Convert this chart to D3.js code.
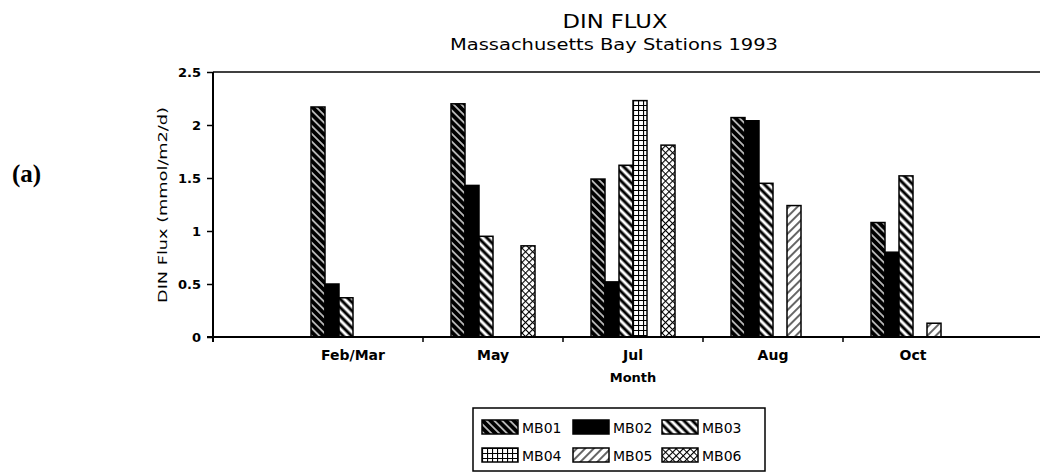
<!DOCTYPE html>
<html>
<head>
<meta charset="utf-8">
<script src="https://cdn.jsdelivr.net/npm/d3@7"></script>
<style>
  body { margin: 0; background: #fff; }
  svg { display: block; }
  text { font-family: "DejaVu Sans", sans-serif; fill: #000; }
</style>
</head>
<body>
<svg></svg>
<script>
var months = ["Feb/Mar", "May", "Jul", "Aug", "Oct"];
var stations = ["MB01", "MB02", "MB03", "MB04", "MB05", "MB06"];

var mb01 = [2.17, 2.20, 1.49, 2.07, 1.08];
var mb02 = [0.50, 1.43, 0.52, 2.04, 0.80];
var mb03 = [0.37, 0.95, 1.62, 1.45, 1.52];
var mb04 = [0, 0, 2.23, 0, 0];
var mb05 = [0, 0, 0, 1.24, 0.13];
var mb06 = [0, 0.86, 1.81, 0, 0];

var yTicks = [0, 0.5, 1, 1.5, 2, 2.5];

var series = [mb01, mb02, mb03, mb04, mb05, mb06];

var screen = {width: 1042, height: 472};

var svg = d3.select("svg")
    .attr("width", screen.width)
    .attr("height", screen.height);

// hatch patterns
var defs = svg.append("defs");

var addLines = function(id, size, angle, lineW, bg, fg)
{
    var p = defs.append("pattern")
        .attr("id", id)
        .attr("patternUnits", "userSpaceOnUse")
        .attr("width", size)
        .attr("height", size)
        .attr("patternTransform", "rotate(" + angle + ")");
    p.append("rect").attr("width", size).attr("height", size).attr("fill", bg);
    p.append("line")
        .attr("x1", size / 2).attr("y1", 0)
        .attr("x2", size / 2).attr("y2", size)
        .attr("stroke", fg)
        .attr("stroke-width", lineW);
}

addLines("p1", 5.5, -45, 1.3, "#000", "#fff");
addLines("p3", 6, -45, 3, "#fff", "#000");
addLines("p5", 6, 45, 1.2, "#fff", "#000");

var grid = defs.append("pattern")
    .attr("id", "p4")
    .attr("patternUnits", "userSpaceOnUse")
    .attr("width", 5).attr("height", 5);
grid.append("rect").attr("width", 5).attr("height", 5).attr("fill", "#fff");
grid.append("path").attr("d", "M0,0.5H5M0.5,0V5").attr("stroke", "#000").attr("stroke-width", 1.2);

var cross = defs.append("pattern")
    .attr("id", "p6")
    .attr("patternUnits", "userSpaceOnUse")
    .attr("width", 5).attr("height", 5)
    .attr("patternTransform", "rotate(45)");
cross.append("rect").attr("width", 5).attr("height", 5).attr("fill", "#fff");
cross.append("path").attr("d", "M0,0.5H5M0.5,0V5").attr("stroke", "#000").attr("stroke-width", 1.2);

var fills = ["url(#p1)", "#000", "url(#p3)", "url(#p4)", "url(#p5)", "url(#p6)"];

// scales
var xScale = d3.scaleBand().domain(months).range([283, 983]);
var xInner = d3.scaleBand().domain(stations).range([28, 112]);
var yScale = d3.scaleLinear().domain([0, 2.5]).range([337, 72]);

// bars
months.forEach(function(m, mi)
{
    var vals = stations.map(function(s, si) { return {s: s, i: si, v: series[si][mi]}; })
        .filter(function(d) { return d.v > 0; });
    svg.append("g")
        .attr("transform", "translate(" + xScale(m) + ",0)")
        .selectAll("rect")
        .data(vals)
        .enter()
        .append("rect")
        .attr("x", function(d) { return xInner(d.s); })
        .attr("y", function(d) { return yScale(d.v); })
        .attr("width", xInner.bandwidth())
        .attr("height", function(d) { return yScale(0) - yScale(d.v); })
        .attr("fill", function(d) { return fills[d.i]; })
        .attr("stroke", "#000")
        .attr("stroke-width", 1.5);
});

// y axis
var yAxis = svg.append("g")
    .attr("transform", "translate(213,0)")
    .call(d3.axisLeft(yScale).tickValues(yTicks).tickSize(6).tickFormat(function(d) { return d; }));
yAxis.select(".domain").remove();
yAxis.selectAll("line").attr("stroke-width", 1.5);
yAxis.selectAll("text")
    .attr("x", -12)
    .style("font-family", "DejaVu Sans")
    .style("font-size", "13px")
    .style("font-weight", "bold");

svg.append("line")
    .attr("x1", 213).attr("x2", 213)
    .attr("y1", yScale(2.5)).attr("y2", yScale(0) + 5)
    .attr("stroke", "#000").attr("stroke-width", 2);

// top frame line and x axis line
svg.append("line")
    .attr("x1", 213).attr("x2", 1040)
    .attr("y1", yScale(2.5)).attr("y2", yScale(2.5))
    .attr("stroke", "#000").attr("stroke-width", 1.5);

svg.append("line")
    .attr("x1", 207).attr("x2", 1040)
    .attr("y1", yScale(0)).attr("y2", yScale(0))
    .attr("stroke", "#000").attr("stroke-width", 2);

// x ticks at group boundaries
svg.selectAll(".xtick")
    .data(months.slice(1))
    .enter()
    .append("line")
    .attr("class", "xtick")
    .attr("x1", function(m) { return xScale(m); })
    .attr("x2", function(m) { return xScale(m); })
    .attr("y1", yScale(0))
    .attr("y2", yScale(0) + 5)
    .attr("stroke", "#000").attr("stroke-width", 1.5);

svg.selectAll(".xlab")
    .data(months)
    .enter()
    .append("text")
    .attr("class", "xlab")
    .attr("x", function(m) { return xScale(m) + xScale.bandwidth() / 2; })
    .attr("y", 360)
    .attr("text-anchor", "middle")
    .style("font-size", "14px")
    .style("font-weight", "bold")
    .text(function(m) { return m; });

svg.append("text")
    .attr("x", xScale("Jul") + xScale.bandwidth() / 2)
    .attr("y", 382)
    .attr("text-anchor", "middle")
    .style("font-size", "13px")
    .style("font-weight", "bold")
    .text("Month");

svg.append("text")
    .attr("transform", "translate(167,205) rotate(-90)")
    .attr("text-anchor", "middle")
    .attr("textLength", 196)
    .attr("lengthAdjust", "spacingAndGlyphs")
    .style("font-size", "13px")
    .text("DIN Flux (mmol/m2/d)");

// titles
svg.append("text")
    .attr("x", 615).attr("y", 28)
    .attr("text-anchor", "middle")
    .attr("textLength", 105)
    .attr("lengthAdjust", "spacingAndGlyphs")
    .style("font-size", "20px")
    .text("DIN FLUX");

svg.append("text")
    .attr("x", 614).attr("y", 50)
    .attr("text-anchor", "middle")
    .attr("textLength", 328)
    .attr("lengthAdjust", "spacingAndGlyphs")
    .style("font-size", "16px")
    .text("Massachusetts Bay Stations 1993");

svg.append("text")
    .attr("x", 12).attr("y", 182)
    .style("font-family", "Liberation Serif")
    .style("font-size", "25px")
    .style("font-weight", "bold")
    .text("(a)");

// legend
var legend = svg.append("g");
legend.append("rect")
    .attr("x", 473).attr("y", 408)
    .attr("width", 292).attr("height", 63)
    .attr("fill", "none")
    .attr("stroke", "#000").attr("stroke-width", 1.5);

var colX = [482, 573, 662];
var rowY = [420, 448];

var items = legend.selectAll(".item")
    .data(stations)
    .enter()
    .append("g")
    .attr("class", "item")
    .attr("transform", function(s, i) { return "translate(" + colX[i % 3] + "," + rowY[Math.floor(i / 3)] + ")"; });

items.append("rect")
    .attr("width", 36).attr("height", 14)
    .attr("fill", function(s, i) { return fills[i]; })
    .attr("stroke", "#000").attr("stroke-width", 1.5);

items.append("text")
    .attr("x", 40).attr("y", 13)
    .style("font-size", "14px")
    .text(function(s) { return s; });
</script>
</body>
</html>
